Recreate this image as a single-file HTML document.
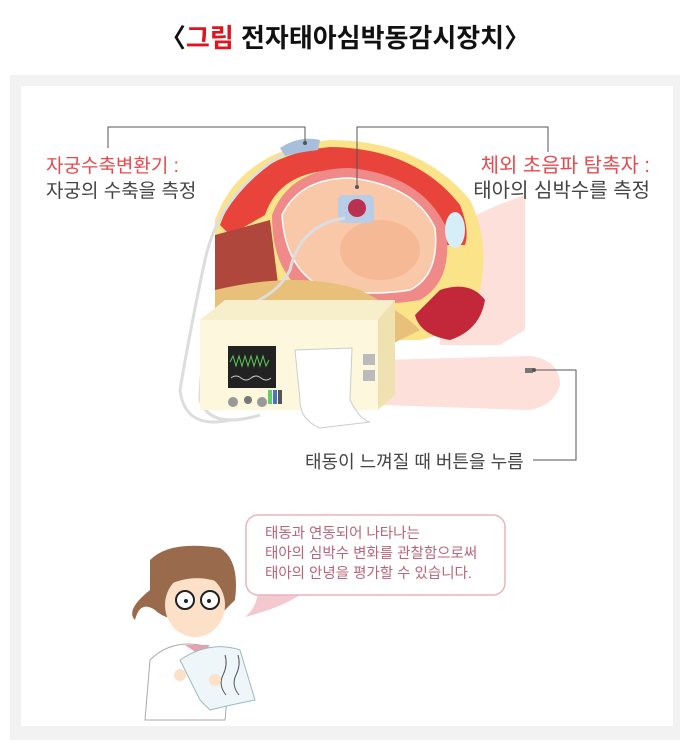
<!DOCTYPE html>
<html><head><meta charset="utf-8"><style>
html,body{margin:0;padding:0;background:#fff;}
svg{display:block;}
text{font-family:"Liberation Sans","Noto Sans CJK KR",sans-serif;}
</style></head><body>
<svg width="690" height="750" viewBox="0 0 690 750" xmlns="http://www.w3.org/2000/svg">
<rect width="690" height="750" fill="#fff"/>
<text x="345" y="47" text-anchor="middle" font-size="26" font-weight="bold" fill="#111">〈<tspan fill="#e0141e">그림</tspan> 전자태아심박동감시장치〉</text>
<rect x="10" y="75" width="670" height="665" fill="#f2f2f2"/>
<rect x="21" y="86" width="652" height="640" fill="#fff"/>

<!-- legs / arm background -->
<path d="M430 240 Q480 210 525 195 L525 330 L500 345 L440 345 Z" fill="#fde0da"/>
<path d="M380 360 L530 356 Q560 360 560 385 Q555 405 530 410 L380 405 Z" fill="#fde0da"/>
<rect x="525" y="368" width="8" height="5" fill="#777"/>

<!-- belly body -->
<path d="M215 220 Q240 150 330 140 Q420 140 470 200 Q490 240 480 290 Q470 330 420 340 L330 340 Q250 345 215 330 Z" fill="#fbe38a"/>
<path d="M220 225 Q245 155 330 147 Q415 148 460 205 Q470 230 465 245 L440 245 Q420 190 340 170 Q280 170 265 215 L230 235 Z" fill="#e8443c"/>
<path d="M215 235 L270 220 L280 300 L215 300 Z" fill="#b0473c"/>
<path d="M272 215 Q290 168 350 168 Q420 175 445 225 Q455 280 420 300 Q360 310 310 295 Q272 275 272 215 Z" fill="#f08a88"/>
<path d="M282 215 Q300 178 350 178 Q415 185 435 228 Q440 275 410 290 Q360 298 318 285 Q285 265 282 215 Z" fill="#f8c8a8" stroke="#fff" stroke-width="1.5"/>
<ellipse cx="380" cy="250" rx="40" ry="30" fill="#f6b995"/>
<rect x="338" y="195" width="36" height="28" rx="5" fill="#b9cde6"/>
<circle cx="357" cy="208" r="9" fill="#b93050"/>
<path d="M215 290 Q300 270 360 290 Q400 310 420 330 L390 345 Q330 320 215 315 Z" fill="#e8c07a"/>
<path d="M440 290 Q470 280 485 300 Q480 330 450 340 Q420 335 415 315 Z" fill="#c2283a"/>
<ellipse cx="455" cy="230" rx="10" ry="18" fill="#d6eef8"/>

<!-- cables -->
<path d="M290 150 Q220 190 205 260 Q190 330 180 390 Q185 430 230 420" fill="none" stroke="#ddd" stroke-width="3"/>
<path d="M345 218 Q300 225 290 270 Q275 300 230 310 Q200 340 200 400 Q210 430 260 415" fill="none" stroke="#ddd" stroke-width="3"/>
<path d="M280 148 Q300 135 320 140 L318 150 Q300 152 285 156 Z" fill="#a8bfdc"/>

<!-- monitor -->
<path d="M200 320 L225 300 L395 300 L378 320 Z" fill="#f7efcc"/>
<path d="M378 320 L395 300 L395 395 L378 410 Z" fill="#efe2b0"/>
<rect x="200" y="320" width="178" height="90" fill="#fdf7dd"/>
<rect x="228" y="346" width="48" height="42" fill="#222"/>
<path d="M230 362 l3 -6 l3 10 l3 -10 l3 10 l3 -10 l3 10 l3 -10 l3 10 l3 -10 l3 10 l3 -10 l3 10 l3 -6" fill="none" stroke="#5dc85a" stroke-width="1"/>
<path d="M231 378 q5 -4 10 0 t10 0 t10 0 t10 0" fill="none" stroke="#ccc" stroke-width="1"/>
<circle cx="233" cy="402" r="5" fill="#999"/><circle cx="248" cy="400" r="4" fill="#777"/><circle cx="262" cy="402" r="5" fill="#999"/>
<rect x="268" y="390" width="4" height="14" fill="#6c6"/><rect x="273" y="390" width="4" height="14" fill="#47c"/><rect x="278" y="390" width="4" height="14" fill="#555"/>
<path d="M295 350 L352 348 L350 400 Q360 420 370 422 L320 428 Q300 420 300 400 Z" fill="#fff" stroke="#ccc"/>
<rect x="363" y="354" width="12" height="11" fill="#bbb"/><rect x="363" y="370" width="12" height="11" fill="#bbb"/>

<!-- leader lines -->
<g fill="none" stroke="#555" stroke-width="1">
<path d="M108 148 V127 H305 V143"/>
<path d="M548 152 V127 H357 V185"/>
<path d="M534 370 H576 V460 H533"/>
</g>
<circle cx="305" cy="143" r="2" fill="#555"/><circle cx="357" cy="187" r="2" fill="#555"/><circle cx="534" cy="370" r="2" fill="#555"/>

<text x="46" y="172" font-size="19" fill="#e8494d">자궁수축변환기 :</text>
<text x="46" y="197" font-size="19" fill="#444">자궁의 수축을 측정</text>
<text x="650" y="172" font-size="20" fill="#e8494d" text-anchor="end">체외 초음파 탐촉자 :</text>
<text x="650" y="197" font-size="20" fill="#444" text-anchor="end">태아의 심박수를 측정</text>
<text x="305" y="468" font-size="18" fill="#444">태동이 느껴질 때 버튼을 누름</text>

<!-- speech bubble -->
<path d="M258 582 Q260 605 245 617 Q280 608 300 595 Z" fill="#f3c8cf"/>
<rect x="246" y="515" width="259" height="80" rx="12" fill="#fff" stroke="#eab4bd" stroke-width="1.5"/>
<g font-size="14.5" fill="#b96478">
<text x="265" y="538">태동과 연동되어 나타나는</text>
<text x="265" y="558">태아의 심박수 변화를 관찰함으로써</text>
<text x="265" y="578">태아의 안녕을 평가할 수 있습니다.</text>
</g>

<!-- doctor -->
<path d="M150 560 Q170 540 220 548 Q240 560 235 600 L215 620 Q170 625 155 610 Q140 600 135 620 Q125 610 150 590 Z" fill="#9a6a4c"/>
<ellipse cx="195" cy="605" rx="30" ry="32" fill="#fde0c8"/>
<path d="M160 570 Q190 550 228 572 L225 585 Q195 570 162 588 Z" fill="#9a6a4c"/>
<circle cx="185" cy="600" r="9" fill="#fff" stroke="#222" stroke-width="2"/>
<circle cx="210" cy="600" r="9" fill="#fff" stroke="#222" stroke-width="2"/>
<circle cx="186" cy="601" r="2" fill="#222"/><circle cx="209" cy="601" r="2" fill="#222"/>
<path d="M145 720 L150 660 Q170 640 200 645 Q220 650 230 665 L225 720 Z" fill="#fff" stroke="#aaa"/>
<path d="M185 645 L200 655 L210 645 Z" fill="#e6a0b0"/>
<path d="M180 660 Q210 640 240 650 L255 700 Q230 705 210 710 L200 700 Z" fill="#eef6fa" stroke="#9bb"/>
<path d="M225 655 q3 10 -2 20 t3 20 M238 655 q3 10 -2 20 t3 20" fill="none" stroke="#555" stroke-width="1"/>
<circle cx="180" cy="675" r="6" fill="#fde0c8"/><circle cx="215" cy="680" r="6" fill="#fde0c8"/>
</svg>
</body></html>
